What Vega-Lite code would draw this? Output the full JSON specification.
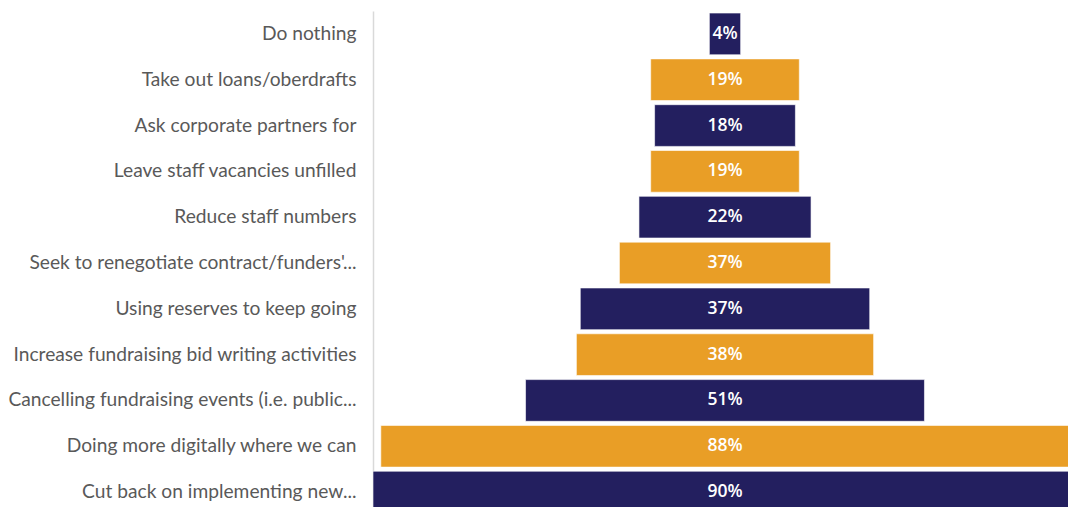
{
  "$schema": "https://vega.github.io/schema/vega-lite/v6.json",
  "autosize": {"type": "none"},
  "padding": {"left": 373, "top": 11, "right": 0, "bottom": 0},
  "width": 704,
  "height": 504,
  "background": "white",
  "config": {"view": {"stroke": null}},
  "data": {"values": [
    {"label": "Do nothing", "value": 0.04, "text": "4%", "group": "a"},
    {"label": "Take out loans/oberdrafts", "value": 0.19, "text": "19%", "group": "b"},
    {"label": "Ask corporate partners for", "value": 0.18, "text": "18%", "group": "a"},
    {"label": "Leave staff vacancies unfilled", "value": 0.19, "text": "19%", "group": "b"},
    {"label": "Reduce staff numbers", "value": 0.22, "text": "22%", "group": "a"},
    {"label": "Seek to renegotiate contract/funders'...", "value": 0.27, "text": "37%", "group": "b"},
    {"label": "Using reserves to keep going", "value": 0.37, "text": "37%", "group": "a"},
    {"label": "Increase fundraising bid writing activities", "value": 0.38, "text": "38%", "group": "b"},
    {"label": "Cancelling fundraising events (i.e. public...", "value": 0.51, "text": "51%", "group": "a"},
    {"label": "Doing more digitally where we can", "value": 0.88, "text": "88%", "group": "b"},
    {"label": "Cut back on implementing new...", "value": 0.90, "text": "90%", "group": "a"}
  ]},
  "encoding": {
    "y": {
      "field": "label", "type": "nominal", "sort": null,
      "scale": {"paddingInner": 0.09, "paddingOuter": 0.045},
      "axis": {
        "title": null, "ticks": false, "labelPadding": 17,
        "labelFont": "Lato", "labelFontSize": 19.2, "labelColor": "#595959",
        "labelLimit": 400, "domainColor": "#d9d9d9", "domainWidth": 1.5
      }
    }
  },
  "layer": [
    {
      "mark": {"type": "bar", "stroke": "#ffffff", "strokeOpacity": 0.6, "strokeWidth": 1},
      "encoding": {
        "x": {"field": "value", "type": "quantitative", "stack": "center",
              "scale": {"domain": [0, 0.9], "nice": false, "zero": true}, "axis": null},
        "color": {"field": "group", "type": "nominal",
                  "scale": {"domain": ["a", "b"], "range": ["#231F5F", "#E99E26"]}, "legend": null}
      }
    },
    {
      "mark": {"type": "text", "color": "white", "font": "Open Sans", "fontSize": 17.5, "fontWeight": 600, "align": "center", "baseline": "middle"},
      "encoding": {
        "x": {"datum": 0.45, "type": "quantitative"},
        "text": {"field": "text", "type": "nominal"}
      }
    }
  ]
}
